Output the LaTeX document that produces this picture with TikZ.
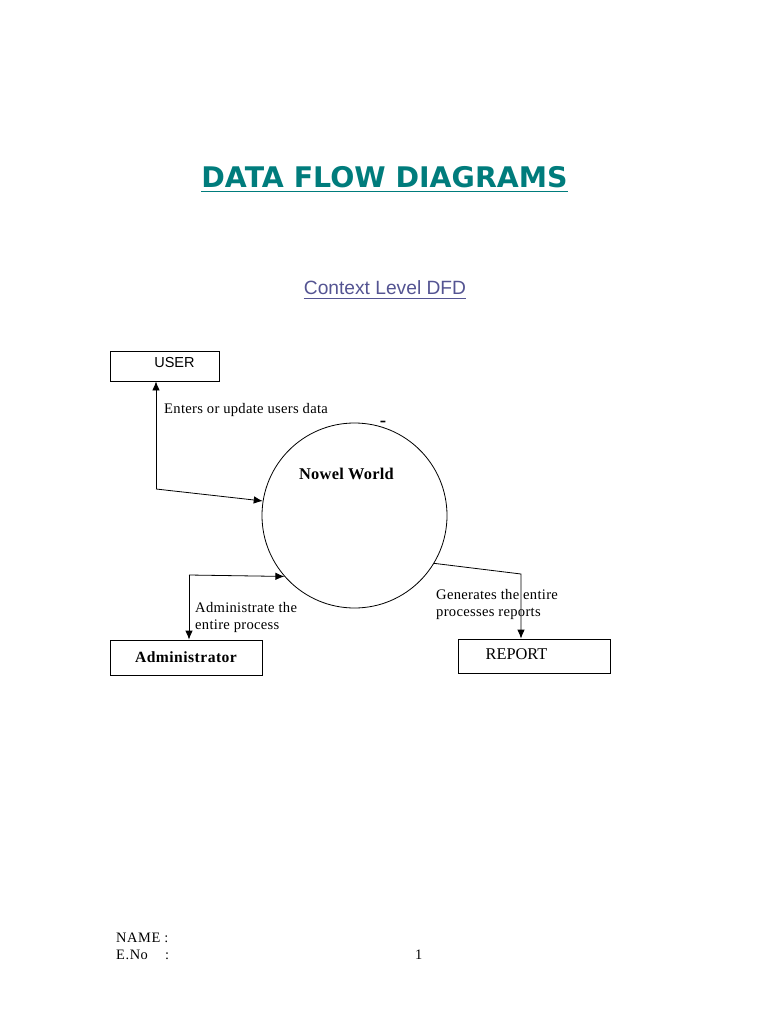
\documentclass[tikz,border=0pt]{standalone}
\usepackage{fontspec}
\setmainfont{Liberation Serif}
\newfontfamily\arialfont{Liberation Sans}
\newfontfamily\verdfont{DejaVu Sans}
\usetikzlibrary{arrows.meta}

\definecolor{titleteal}{RGB}{0,124,124}
\definecolor{ctxblue}{RGB}{84,84,146}

\tikzset{
    entity/.style={draw, line width=0.8pt, inner sep=0pt},
    flow/.style={line width=0.8pt, -{Latex[length=9pt,width=7.5pt]}},
    note/.style={font=\fontsize{14.6}{17}\selectfont\addfontfeature{LetterSpace=2}, align=left, anchor=west, inner sep=0pt}
}

\begin{document}
\begin{tikzpicture}[x=1pt, y=-1pt]
    \useasboundingbox (0,0) rectangle (768,1024);

    % headings
    \node[text=titleteal, inner sep=0pt, font=\verdfont\bfseries\fontsize{28.4}{32}\selectfont] (title) at (384.5,177) {DATA FLOW DIAGRAMS};
    \draw[titleteal, line width=1.3pt] ([yshift=-4pt]title.base west) -- ([yshift=-4pt]title.base east);
    \node[text=ctxblue, inner sep=0pt, font=\arialfont\fontsize{19.2}{22}\selectfont] (ctx) at (385,288) {Context Level DFD};
    \draw[ctxblue, line width=0.9pt] ([yshift=-3.5pt]ctx.base west) -- ([yshift=-3.5pt]ctx.base east);

    % entities and process
    \node[entity, minimum width=109pt, minimum height=30pt] (user) at (164.5,366) {};
    \node[font=\arialfont\fontsize{14.5}{17}\selectfont, inner sep=0pt] (usertxt) at (174.5,363) {USER};
    \node[entity, minimum width=152pt, minimum height=35pt, font=\bfseries\fontsize{15.6}{18}\selectfont\addfontfeature{LetterSpace=3}] (admin) at (186,657.5) {Administrator};
    \node[entity, minimum width=152pt, minimum height=34pt] (report) at (534,656) {};
    \node[font=\fontsize{16.4}{18}\selectfont, inner sep=0pt] (reporttxt) at (516.5,654) {REPORT};
    \node[draw, circle, line width=0.8pt, minimum size=185pt, inner sep=0pt] (nowel) at (354.5,515.5) {};
    \node[font=\bfseries\fontsize{16.4}{18}\selectfont\addfontfeature{LetterSpace=1.5}, inner sep=0pt] (noweltxt) at (346.5,474) {Nowel World};
    \node[font=\bfseries\fontsize{19}{19}\selectfont, inner sep=0pt] (mark) at (383,424) {-};

    % data flows
    \coordinate (ubend) at (156,489);
    \coordinate (abend) at (189,575);
    \coordinate (rbend) at (521,574);
    \draw[flow] (ubend) -- (user.south -| ubend);
    \draw[flow] (ubend) -- (nowel.171);
    \draw[flow] (abend) -- (admin.north -| abend);
    \draw[flow] (abend) -- (nowel.221);
    \draw[flow] (nowel.-31) -- (rbend) -- (report.north -| rbend);

    \node[note] (userflow) at (164,410) {Enters or update users data};
    \node[note] (adminflow) at (195,617.5) {Administrate the\\entire process};
    \node[note] (reportflow) at (436,604.5) {Generates the entire\\processes reports};

    % footer
    \node[note, font=\fontsize{14.4}{17}\selectfont\addfontfeature{LetterSpace=4}] (name) at (116,938) {NAME :};
    \node[note, font=\fontsize{14.4}{17}\selectfont\addfontfeature{LetterSpace=4}] (eno) at (116,955) {E.No\hspace{1.2em}:};
    \node[note, font=\fontsize{14.4}{17}\selectfont] (page) at (415,955) {1};
\end{tikzpicture}
\end{document}
